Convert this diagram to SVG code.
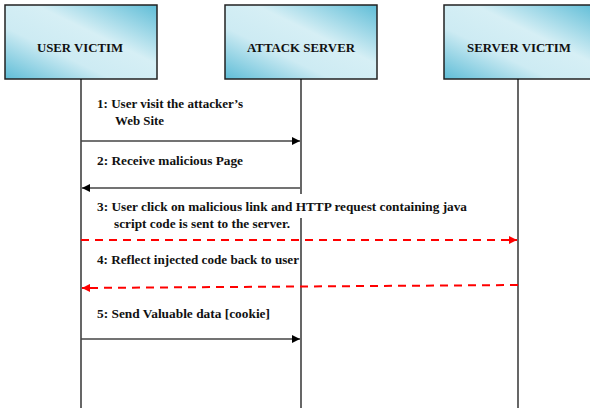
<svg xmlns="http://www.w3.org/2000/svg" width="590" height="408" viewBox="0 0 590 408">
<defs>
<linearGradient id="g" x1="0" y1="1" x2="1" y2="0">
<stop offset="0" stop-color="#5fbdd7"/>
<stop offset="0.35" stop-color="#cdebf3"/>
<stop offset="0.6" stop-color="#d6eff5"/>
<stop offset="1" stop-color="#5fbdd7"/>
</linearGradient>
<marker id="ah" viewBox="0 0 10 10" refX="10" refY="5" markerWidth="10" markerHeight="8" markerUnits="userSpaceOnUse" orient="auto">
<path d="M0,0 L10,5 L0,10 z" fill="#000"/>
</marker>
<marker id="ahr" viewBox="0 0 10 10" refX="10" refY="5" markerWidth="10" markerHeight="8" markerUnits="userSpaceOnUse" orient="auto">
<path d="M0,0 L10,5 L0,10 z" fill="#ff0000"/>
</marker>
</defs>
<style>
.box{fill:url(#g);stroke:#222;stroke-width:1.5}
.title{font-family:"Liberation Serif",serif;font-weight:bold;font-size:12.5px;fill:#111;text-anchor:middle}
.msg{font-family:"Liberation Serif",serif;font-weight:bold;font-size:12px;fill:#111}
.life{stroke:#000;stroke-width:1.2;fill:none}
.arr{stroke:#444;stroke-width:1.5;fill:none;marker-end:url(#ah)}
.dash{stroke:#ff0000;stroke-width:2;stroke-dasharray:8,6;fill:none;marker-end:url(#ahr)}
</style>
<rect width="590" height="408" fill="#fff"/>
<g id="user-victim">
<rect class="box" x="5" y="5" width="152" height="74"/>
<text class="title" x="80" y="52" textLength="86" lengthAdjust="spacingAndGlyphs">USER VICTIM</text>
</g>
<g id="attack-server">
<rect class="box" x="225" y="5" width="152" height="74"/>
<text class="title" x="301" y="52" textLength="108" lengthAdjust="spacingAndGlyphs">ATTACK SERVER</text>
</g>
<g id="server-victim">
<rect class="box" x="444" y="5" width="152" height="74"/>
<text class="title" x="519" y="52" textLength="104" lengthAdjust="spacingAndGlyphs">SERVER VICTIM</text>
</g>
<g id="connectors">
<line class="life" x1="81" y1="79" x2="81" y2="408"/>
<line class="life" x1="301" y1="79" x2="301" y2="194"/>
<line class="life" x1="301" y1="218" x2="301" y2="408"/>
<line class="life" x1="518" y1="79" x2="518" y2="408" stroke="#555"/>
<line class="arr" x1="81" y1="141" x2="300" y2="141"/>
<line class="arr" x1="300" y1="188" x2="82" y2="188"/>
<line class="dash" x1="81" y1="240" x2="517" y2="240"/>
<line class="dash" x1="518" y1="285" x2="82" y2="288"/>
<line class="arr" x1="81" y1="339" x2="300" y2="339"/>
</g>
<g id="labels">
<text class="msg" x="97" y="108" textLength="146" lengthAdjust="spacingAndGlyphs">1: User visit the  attacker’s</text>
<text class="msg" x="115" y="125" textLength="49" lengthAdjust="spacingAndGlyphs">Web Site</text>
<text class="msg" x="97" y="165" textLength="146" lengthAdjust="spacingAndGlyphs">2:  Receive malicious Page</text>
<text class="msg" x="97" y="211" textLength="370" lengthAdjust="spacingAndGlyphs">3:  User click on malicious link and HTTP request containing java</text>
<text class="msg" x="114" y="228" textLength="176" lengthAdjust="spacingAndGlyphs">script code is sent  to the server.</text>
<text class="msg" x="97" y="264" textLength="202" lengthAdjust="spacingAndGlyphs">4:  Reflect injected  code back to user</text>
<text class="msg" x="97" y="318" textLength="173" lengthAdjust="spacingAndGlyphs">5:  Send Valuable data [cookie]</text>
</g>
</svg>
